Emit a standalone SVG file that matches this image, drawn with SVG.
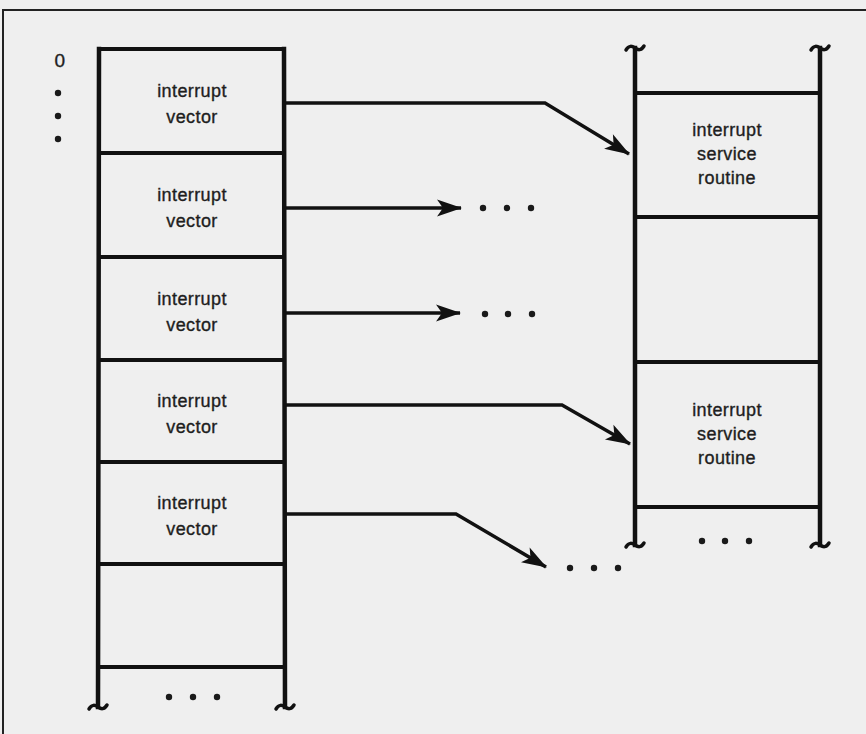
<svg xmlns="http://www.w3.org/2000/svg" width="866" height="734" viewBox="0 0 866 734">
<style>
.bg{fill:#efefef}
.col{stroke:#111;stroke-width:4.5;fill:none;stroke-linecap:square}
.div{stroke:#111;stroke-width:4;fill:none}
.sq{stroke:#111;stroke-width:3.5;fill:none;stroke-linecap:round}
.arr{stroke:#111;stroke-width:3.5;fill:none}
.frame{stroke:#222;stroke-width:2;fill:none}
.t{font-family:"Liberation Sans",Arial,sans-serif;font-size:18px;fill:#1e1e1e;stroke:#1e1e1e;stroke-width:0.35px;text-anchor:middle;letter-spacing:0.4px}
.dot{fill:#1a1a1a}
</style>
<defs>
<marker id="ah" markerUnits="userSpaceOnUse" markerWidth="28" markerHeight="20" refX="0" refY="0" viewBox="-26 -10 28 20" orient="auto">
<path d="M1,0 L-24,-8.5 L-18,0 L-24,8.5 Z" fill="#111"/>
</marker>
</defs>
<rect class="bg" x="0" y="0" width="866" height="734"/>
<path class="frame" d="M3,734 L3,10 L866,10"/>

<g id="address-labels">
<text class="t" x="60" y="67" style="font-size:19px">0</text>
<circle class="dot" cx="58" cy="93" r="3.2"/>
<circle class="dot" cx="58" cy="116" r="3.2"/>
<circle class="dot" cx="58" cy="139" r="3.2"/>
</g>

<g id="vector-table">
<path class="col" d="M99,49 L98,707 M284,49 L285,707"/>
<path class="div" d="M99,49 H284 M99,153 H284 M99,257 H284 M99,360 H284 M99,462 H284 M99,564 H284 M99,667 H284"/>
<path class="sq" d="M89,709 C92,704 95,705 98,707 S104,710 107,705"/>
<path class="sq" d="M276,709 C279,704 282,705 285,707 S291,710 294,705"/>
<circle class="dot" cx="169" cy="697" r="3.2"/>
<circle class="dot" cx="193" cy="697" r="3.2"/>
<circle class="dot" cx="217" cy="697" r="3.2"/>
</g>

<g id="vector-1"><text class="t" x="192" y="97">interrupt</text><text class="t" x="192" y="123">vector</text></g>
<g id="vector-2"><text class="t" x="192" y="201">interrupt</text><text class="t" x="192" y="227">vector</text></g>
<g id="vector-3"><text class="t" x="192" y="305">interrupt</text><text class="t" x="192" y="331">vector</text></g>
<g id="vector-4"><text class="t" x="192" y="407">interrupt</text><text class="t" x="192" y="433">vector</text></g>
<g id="vector-5"><text class="t" x="192" y="509">interrupt</text><text class="t" x="192" y="535">vector</text></g>

<g id="memory">
<path class="col" d="M635,48 L635,545 M820,48 L820,545"/>
<path class="div" d="M635,93 H820 M635,217 H820 M635,362 H820 M635,507 H820"/>
<path class="sq" d="M626,50 C629,45 632,46 635,48 S641,51 644,46"/>
<path class="sq" d="M811,50 C814,45 817,46 820,48 S826,51 829,46"/>
<path class="sq" d="M626,547 C629,542 632,543 635,545 S641,548 644,543"/>
<path class="sq" d="M811,547 C814,542 817,543 820,545 S826,548 829,543"/>
<circle class="dot" cx="702" cy="541" r="3.2"/>
<circle class="dot" cx="725" cy="541" r="3.2"/>
<circle class="dot" cx="749" cy="541" r="3.2"/>
</g>

<g id="isr-1"><text class="t" x="727" y="136">interrupt</text><text class="t" x="727" y="160">service</text><text class="t" x="727" y="184">routine</text></g>
<g id="isr-2"><text class="t" x="727" y="416">interrupt</text><text class="t" x="727" y="440">service</text><text class="t" x="727" y="464">routine</text></g>

<g id="connectors">
<path class="arr" d="M286,103 H545 L629,154" marker-end="url(#ah)"/>
<path class="arr" d="M286,208 H461" marker-end="url(#ah)"/>
<path class="arr" d="M286,313 H460" marker-end="url(#ah)"/>
<path class="arr" d="M286,405 H562 L630,444" marker-end="url(#ah)"/>
<path class="arr" d="M286,514 H456 L546,567" marker-end="url(#ah)"/>
<circle class="dot" cx="483" cy="208" r="3.2"/>
<circle class="dot" cx="507" cy="208" r="3.2"/>
<circle class="dot" cx="531" cy="208" r="3.2"/>
<circle class="dot" cx="485" cy="314" r="3.2"/>
<circle class="dot" cx="508" cy="314" r="3.2"/>
<circle class="dot" cx="532" cy="314" r="3.2"/>
<circle class="dot" cx="570" cy="568" r="3.2"/>
<circle class="dot" cx="594" cy="568" r="3.2"/>
<circle class="dot" cx="618" cy="568" r="3.2"/>
</g>
</svg>
